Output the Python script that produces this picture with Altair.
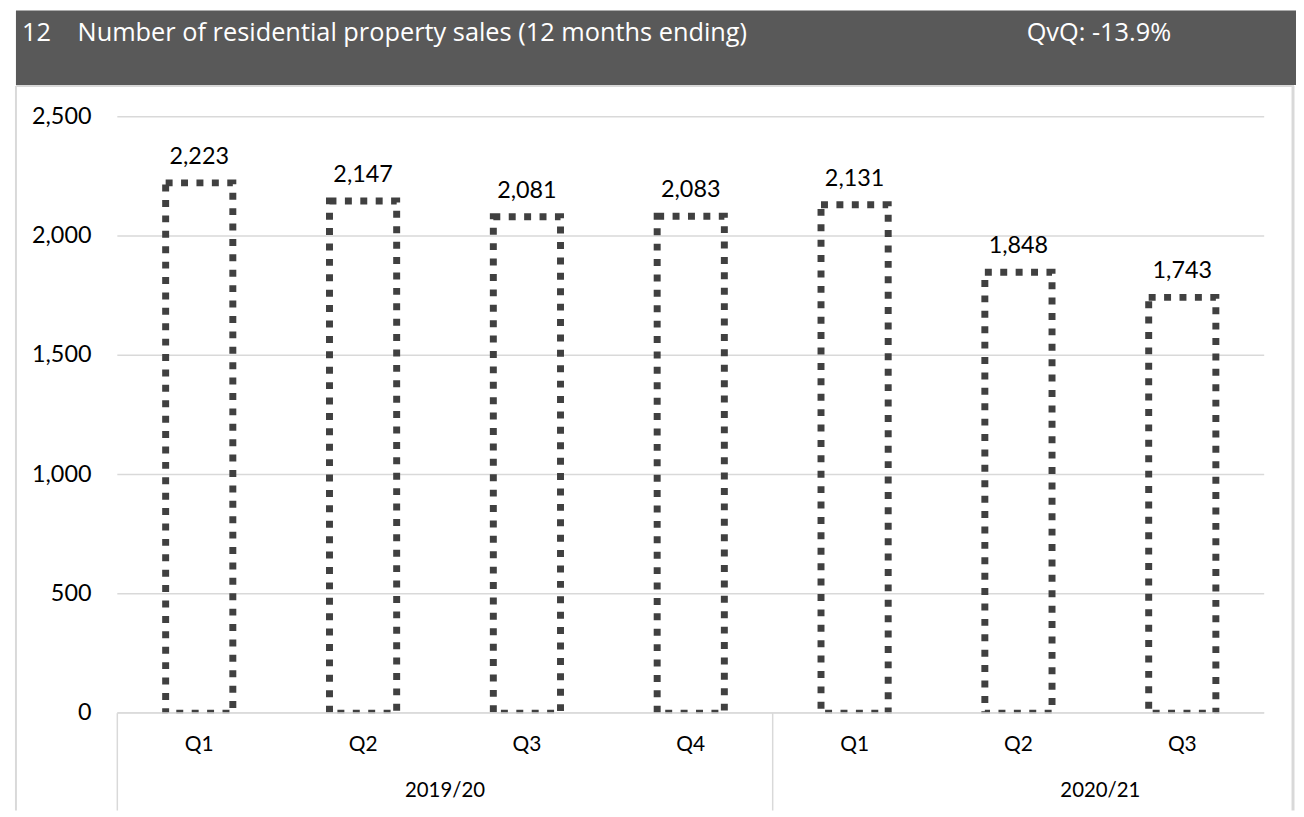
import altair as alt
import pandas as pd

# ---- data ----
quarters = ["Q1", "Q2", "Q3", "Q4", "Q1", "Q2", "Q3"]
years = ["2019/20", "2019/20", "2019/20", "2019/20", "2020/21", "2020/21", "2020/21"]
sales = [2223, 2147, 2081, 2083, 2131, 1848, 1743]
y_ticks = [0, 500, 1000, 1500, 2000, 2500]
year_labels = ["2019/20", "2020/21"]
year_label_pos = [2.0, 6.0]      # group centres in category units
separator_pos = [0, 4]           # group boundaries in category units

title_num = "12"
title_text = "Number of residential property sales (12 months ending)"
qvq_text = "QvQ: -13.9%"

keys = [f"{y} {q}" for y, q in zip(years, quarters)]
df = pd.DataFrame({"key": keys, "quarter": quarters, "year": years, "sales": sales})
ticks_df = pd.DataFrame({"v": y_ticks})
years_df = pd.DataFrame({"year": year_labels, "pos": year_label_pos})
sep_df = pd.DataFrame({"pos": separator_pos})
one = pd.DataFrame({"a": [0]})

W, H = 1296, 805
X0, X1 = 110, 1264       # plot area (view coords)
Y0, Y1 = 707, 107        # y=0 and y=2500

xband = alt.X("key:N", sort=keys, axis=None,
              scale=alt.Scale(range=[X0, X1], paddingInner=0.59, paddingOuter=0.295))
yscale = alt.Scale(domain=[0, 2500], range=[Y0, Y1])
xq = alt.Scale(domain=[0, 7], range=[X0, X1])

FONT = "Lato"
HFONT = "Open Sans"
GRID = "#d9d9d9"

header = alt.Chart(one).mark_rect(color="#595959").encode(
    x=alt.value(8), x2=alt.value(1296), y=alt.value(0), y2=alt.value(75))
h1 = alt.Chart(one).mark_text(text=title_num, font=HFONT, fontSize=25.5, color="white",
                              align="left", baseline="alphabetic").encode(
    x=alt.value(14), y=alt.value(31))
h2 = alt.Chart(one).mark_text(text=title_text, font=HFONT, fontSize=25.5, color="white",
                              align="left", baseline="alphabetic").encode(
    x=alt.value(70), y=alt.value(31))
h3 = alt.Chart(one).mark_text(text=qvq_text, font=HFONT, fontSize=25.5, color="white",
                              align="left", baseline="alphabetic").encode(
    x=alt.value(1025), y=alt.value(31))

box_l = alt.Chart(one).mark_rule(color=GRID, strokeWidth=2).encode(
    x=alt.value(8), y=alt.value(76), y2=alt.value(H))
box_r = alt.Chart(one).mark_rule(color=GRID, strokeWidth=3).encode(
    x=alt.value(1293), y=alt.value(76), y2=alt.value(H))
box_t = alt.Chart(one).mark_rule(color=GRID, strokeWidth=2).encode(
    x=alt.value(8), x2=alt.value(1294), y=alt.value(76))

grid = alt.Chart(ticks_df).mark_rule(color=GRID, strokeWidth=1.5).encode(
    y=alt.Y("v:Q", scale=yscale, axis=None), x=alt.value(X0), x2=alt.value(X1))
ylabels = alt.Chart(ticks_df).mark_text(font=FONT, fontSize=23.5, align="right",
                                        baseline="middle", color="black").encode(
    y=alt.Y("v:Q", scale=yscale, axis=None), x=alt.value(84),
    text=alt.Text("v:Q", format=","))

bars = alt.Chart(df).mark_bar(fill="transparent", stroke="#404040", strokeWidth=7,
                              strokeDash=[7, 8.5]).encode(
    x=xband, y=alt.Y("sales:Q", scale=yscale, axis=None))
cover = alt.Chart(one).mark_rect(color="white").encode(
    x=alt.value(X0 - 20), x2=alt.value(X1 + 5), y=alt.value(Y0 + 0.5), y2=alt.value(Y0 + 5))
vlabels = alt.Chart(df).mark_text(font=FONT, fontSize=23.5, baseline="alphabetic",
                                  dy=-19, color="black").encode(
    x=xband, y=alt.Y("sales:Q", scale=yscale, axis=None),
    text=alt.Text("sales:Q", format=","))

baseline = alt.Chart(one).mark_rule(color=GRID, strokeWidth=1.5).encode(
    y=alt.value(Y0), x=alt.value(X0), x2=alt.value(X1))

qlabels = alt.Chart(df).mark_text(font=FONT, fontSize=21, baseline="alphabetic",
                                  color="black").encode(
    x=xband, y=alt.value(745), text="quarter:N")

seps = alt.Chart(sep_df).mark_rule(color=GRID, strokeWidth=1.5).encode(
    x=alt.X("pos:Q", scale=xq, axis=None), y=alt.value(Y0), y2=alt.value(H))
ylab = alt.Chart(years_df).mark_text(font=FONT, fontSize=20.5, baseline="alphabetic",
                                     color="black").encode(
    x=alt.X("pos:Q", scale=xq, axis=None), y=alt.value(791), text="year:N")

chart = alt.layer(
    header, h1, h2, h3, box_t, box_l, box_r,
    grid, ylabels, bars, cover, baseline, vlabels, qlabels, seps, ylab
).resolve_scale(x="independent").properties(
    width=W, height=H, padding=0, autosize=alt.AutoSizeParams(type="none")
).configure_view(stroke=None)

chart.save("out.html", embed_options={"renderer": "svg", "actions": False})
